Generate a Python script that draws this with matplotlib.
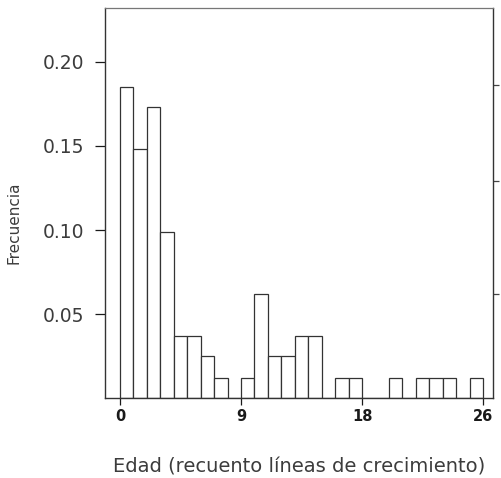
import matplotlib
matplotlib.use("Agg")
import matplotlib.pyplot as plt

# frecuencia por clase de edad (lineas de crecimiento), clases de ancho 1
edades = list(range(27))
frecuencias = [0.185, 0.148, 0.173, 0.099, 0.037, 0.037, 0.025, 0.012, 0.0,
               0.012, 0.062, 0.025, 0.025, 0.037, 0.037, 0.0, 0.012, 0.012,
               0.0, 0.0, 0.012, 0.0, 0.012, 0.012, 0.012, 0.0, 0.012]

xticks = [0, 9, 18, 27]
xtick_labels = ["0", "9", "18", "26"]
yticks = [0.05, 0.10, 0.15, 0.20]
ytick_labels = ["0.05", "0.10", "0.15", "0.20"]
right_ticks = [0.062, 0.129, 0.186]

plt.rcParams['font.family'] = ['DejaVu Sans']

fig = plt.figure(figsize=(5.02, 4.78), dpi=100)
ax = fig.add_axes([0.209, 0.167, 0.773, 0.816])

ax.bar(edades, frecuencias, width=1.0, align='edge', color='white',
       edgecolor='#333333', linewidth=0.9)

ax.set_xlim(-1.12, 27.73)
ax.set_ylim(0, 0.232)

ax.set_xticks(xticks)
ax.set_xticklabels(xtick_labels, fontsize=10.5, fontweight='bold')
ax.set_yticks(yticks)
ax.set_yticklabels(ytick_labels, fontsize=13.5, color='#3c3c3c')
ax.tick_params(axis='x', length=5, width=0.9, pad=3, colors='#1a1a1a')
ax.tick_params(axis='y', length=7, width=0.9, pad=8, color='#1a1a1a')

for side in ['left', 'bottom', 'right']:
    ax.spines[side].set_linewidth(1.0)
    ax.spines[side].set_color('#333333')
ax.spines['top'].set_linewidth(0.9)
ax.spines['top'].set_color('#777777')

sec = ax.secondary_yaxis('right')
sec.set_yticks(right_ticks)
sec.set_yticklabels([])
sec.tick_params(length=4, width=0.9, colors='#444444')
sec.spines['right'].set_visible(False)

ax.set_xlabel("Edad (recuento líneas de crecimiento)", fontsize=14,
              color='#3c3c3c')
ax.xaxis.set_label_coords(0.5, -0.152)
ax.set_ylabel("Frecuencia", fontsize=11, color='#3c3c3c')
ax.yaxis.set_label_coords(-0.216, 0.45)

fig.savefig("out.png", dpi=100)
